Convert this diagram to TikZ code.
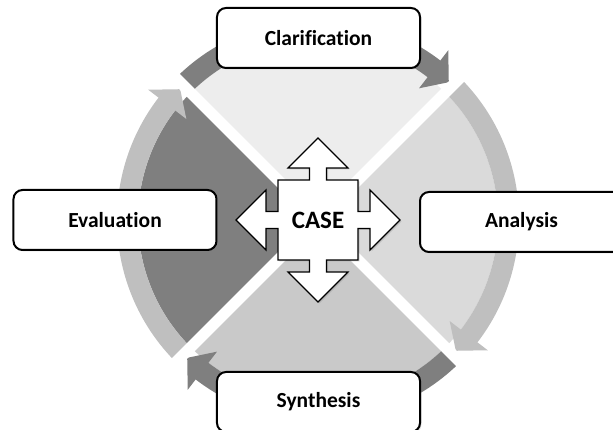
\documentclass[tikz,border=0pt]{standalone}
\usepackage{fontspec}
\setmainfont[Ligatures=NoCommon]{Carlito}
\usetikzlibrary{shadows}
\definecolor{secTop}{HTML}{EDEDED}
\definecolor{secRight}{HTML}{DADADA}
\definecolor{secBottom}{HTML}{C9C9C9}
\definecolor{secLeft}{HTML}{7F7F7F}
\definecolor{bandDark}{HTML}{7F7F7F}
\definecolor{bandLight}{HTML}{BFBFBF}
\tikzset{
  stagebox/.style={draw=black, line width=2pt, fill=white, rounded corners=9pt,
    minimum width=203pt, minimum height=60pt, inner sep=0pt,
    font=\fontsize{21.5}{25}\selectfont\bfseries,
    drop shadow={opacity=0.25, shadow xshift=1.5pt, shadow yshift=-1.5pt}},
  hubtext/.style={font=\fontsize{25}{30}\selectfont\bfseries, inner sep=0pt},
  gapline/.style={white, line width=11pt},
  crossshape/.style={draw=black, line width=1.2pt, fill=white, line join=miter,
    drop shadow={opacity=0.3, shadow xshift=1.5pt, shadow yshift=-1.5pt}}
}
% circular arrow band: #1 colour, #2 start angle, #3 head back angle, #4 tip angle
\newcommand{\cyclearrow}[4]{%
  \fill[#1] (#2:180pt) arc[start angle=#2, end angle=#3, radius=180pt]
    -- (#3:166pt) -- (#4:190pt) -- (#3:214pt) -- (#3:201pt)
    arc[start angle=#3, end angle=#2, radius=201pt] -- cycle;}
\begin{document}
\begin{tikzpicture}[x=1pt, y=1pt]
\path[use as bounding box] (-318,-210) rectangle (295,220);
\clip (-318,-210) rectangle (295,220);

% quadrant sectors
\fill[secTop]    (0,0) -- (135:180pt) arc[start angle=135, end angle=45,  radius=180pt] -- cycle;
\fill[secRight]  (0,0) -- (45:180pt)  arc[start angle=45,  end angle=-45, radius=180pt] -- cycle;
\fill[secBottom] (0,0) -- (-45:180pt) arc[start angle=-45, end angle=-135, radius=180pt] -- cycle;
\fill[secLeft]   (0,0) -- (-135:180pt) arc[start angle=-135, end angle=-225, radius=180pt] -- cycle;

% clockwise arrows round the rim
\cyclearrow{bandDark}{135}{52.5}{46.5}
\cyclearrow{bandLight}{45}{-37.5}{-43.5}
\cyclearrow{bandDark}{-45}{-127.5}{-133.5}
\cyclearrow{bandLight}{-135}{-217.5}{-223.5}

% white separators along the diagonals
\draw[gapline] (135:235pt) -- (-45:235pt);
\draw[gapline] (45:235pt) -- (-135:235pt);

% four-way arrow in the middle
\path[crossshape]
  (0,82) -- (30,52) -- (8.5,52) -- (8.5,40) -- (40,40) -- (40,8.5) -- (52,8.5) -- (52,30)
  -- (82,0) -- (52,-30) -- (52,-8.5) -- (40,-8.5) -- (40,-40) -- (8.5,-40) -- (8.5,-52)
  -- (30,-52) -- (0,-82) -- (-30,-52) -- (-8.5,-52) -- (-8.5,-40) -- (-40,-40) -- (-40,-8.5)
  -- (-52,-8.5) -- (-52,-30) -- (-82,0) -- (-52,30) -- (-52,8.5) -- (-40,8.5) -- (-40,40)
  -- (-8.5,40) -- (-8.5,52) -- (-30,52) -- cycle;
\node[hubtext] (case) at (0,0) {CASE};

% stage labels
\node[stagebox] (clar)  at (0.5,182)   {Clarification};
\node[stagebox] (anal)  at (203.5,-2)  {Analysis};
\node[stagebox] (synth) at (0.5,-182)  {Synthesis};
\node[stagebox] (eval)  at (-203,0)    {Evaluation};
\end{tikzpicture}
\end{document}
